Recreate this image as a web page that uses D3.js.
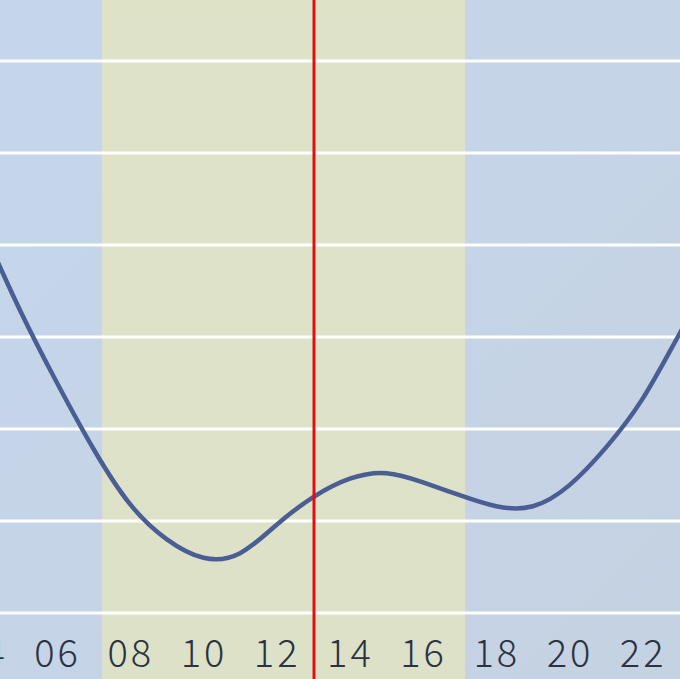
<!DOCTYPE html>
<html>
<head>
<meta charset="utf-8">
<script src="https://cdn.jsdelivr.net/npm/d3@7"></script>
<style>
  html, body { margin: 0; padding: 0; background: #c6d5e8; }
  svg { display: block; }
  .axis text { font-family: "Noto Sans CJK JP", "Noto Sans", sans-serif; font-weight: 200; fill: #2b3242; }
</style>
</head>
<body>
<div class="content"></div>
<script>
// Data
const hours = [4, 5, 6, 7, 8, 9, 10, 11, 12, 13, 14, 15, 16, 17, 18, 19, 20, 21, 22, 23, 24];
const levels = [4.15, 3.28, 2.5, 1.78, 1.18, 0.8, 0.6, 0.65, 0.96, 1.26, 1.46, 1.52, 1.42, 1.28, 1.16, 1.16, 1.39, 1.8, 2.33, 3.03, 3.72];
const gridLevels = [0, 1, 2, 3, 4, 5, 6];
const tickHours = [4, 6, 8, 10, 12, 14, 16, 18, 20, 22];
const daylight = [7.23, 17.15];
const nowHour = 13.02;

// Dimensions
const width = 680;
const height = 679;

const svg = d3
  .select(".content")
  .append("svg")
  .attr("width", width)
  .attr("height", height);

// Scales
const xScale = d3.scaleLinear().domain([4.44, 23.02]).range([0, width]);
const yScale = d3.scaleLinear().domain([0, 6]).range([613, 61]);

// Background gradient
const defs = svg.append("defs");
const bg = defs
  .append("linearGradient")
  .attr("id", "bg")
  .attr("x1", "0")
  .attr("y1", "0")
  .attr("x2", "1")
  .attr("y2", "1");
bg.append("stop").attr("offset", "0%").attr("stop-color", "#c5d6ec");
bg.append("stop").attr("offset", "100%").attr("stop-color", "#c5d2e2");

const band = defs
  .append("linearGradient")
  .attr("id", "band")
  .attr("x1", "0")
  .attr("y1", "0")
  .attr("x2", "0")
  .attr("y2", "1");
band.append("stop").attr("offset", "0%").attr("stop-color", "#dee3c8");
band.append("stop").attr("offset", "100%").attr("stop-color", "#dde1c8");

svg
  .append("rect")
  .attr("width", width)
  .attr("height", height)
  .attr("fill", "url(#bg)");

// Daylight band
svg
  .append("rect")
  .attr("x", xScale(daylight[0]))
  .attr("width", xScale(daylight[1]) - xScale(daylight[0]))
  .attr("y", 0)
  .attr("height", height)
  .attr("fill", "url(#band)");

// Grid lines
svg
  .append("g")
  .selectAll("line")
  .data(gridLevels)
  .join("line")
  .attr("x1", 0)
  .attr("x2", width)
  .attr("y1", (d) => yScale(d))
  .attr("y2", (d) => yScale(d))
  .attr("stroke", "#ffffff")
  .attr("stroke-width", 3);

// Curve
const series = hours.map((h, i) => ({ hour: h, level: levels[i] }));
const line = d3
  .line()
  .x((d) => xScale(d.hour))
  .y((d) => yScale(d.level))
  .curve(d3.curveNatural);

svg
  .append("path")
  .datum(series)
  .attr("d", line)
  .attr("fill", "none")
  .attr("stroke", "#4a5e94")
  .attr("stroke-width", 4.5)
  .attr("stroke-linecap", "round");

// Current time line
svg
  .append("line")
  .attr("x1", xScale(nowHour))
  .attr("x2", xScale(nowHour))
  .attr("y1", 0)
  .attr("y2", height)
  .attr("stroke", "#e01010")
  .attr("stroke-width", 3);

// X axis
const xAxis = d3
  .axisBottom(xScale)
  .tickValues(tickHours)
  .tickFormat(d3.format("02d"))
  .tickSize(0)
  .tickPadding(0);

const axisG = svg
  .append("g")
  .attr("class", "axis")
  .attr("transform", "translate(0, 667)")
  .call(xAxis);

axisG.select(".domain").remove();
axisG
  .selectAll("text")
  .attr("y", 0)
  .attr("dy", 0)
  .attr("font-size", 38)
  .attr("letter-spacing", 3)
  .style("fill", "#2b3242");
</script>
</body>
</html>
